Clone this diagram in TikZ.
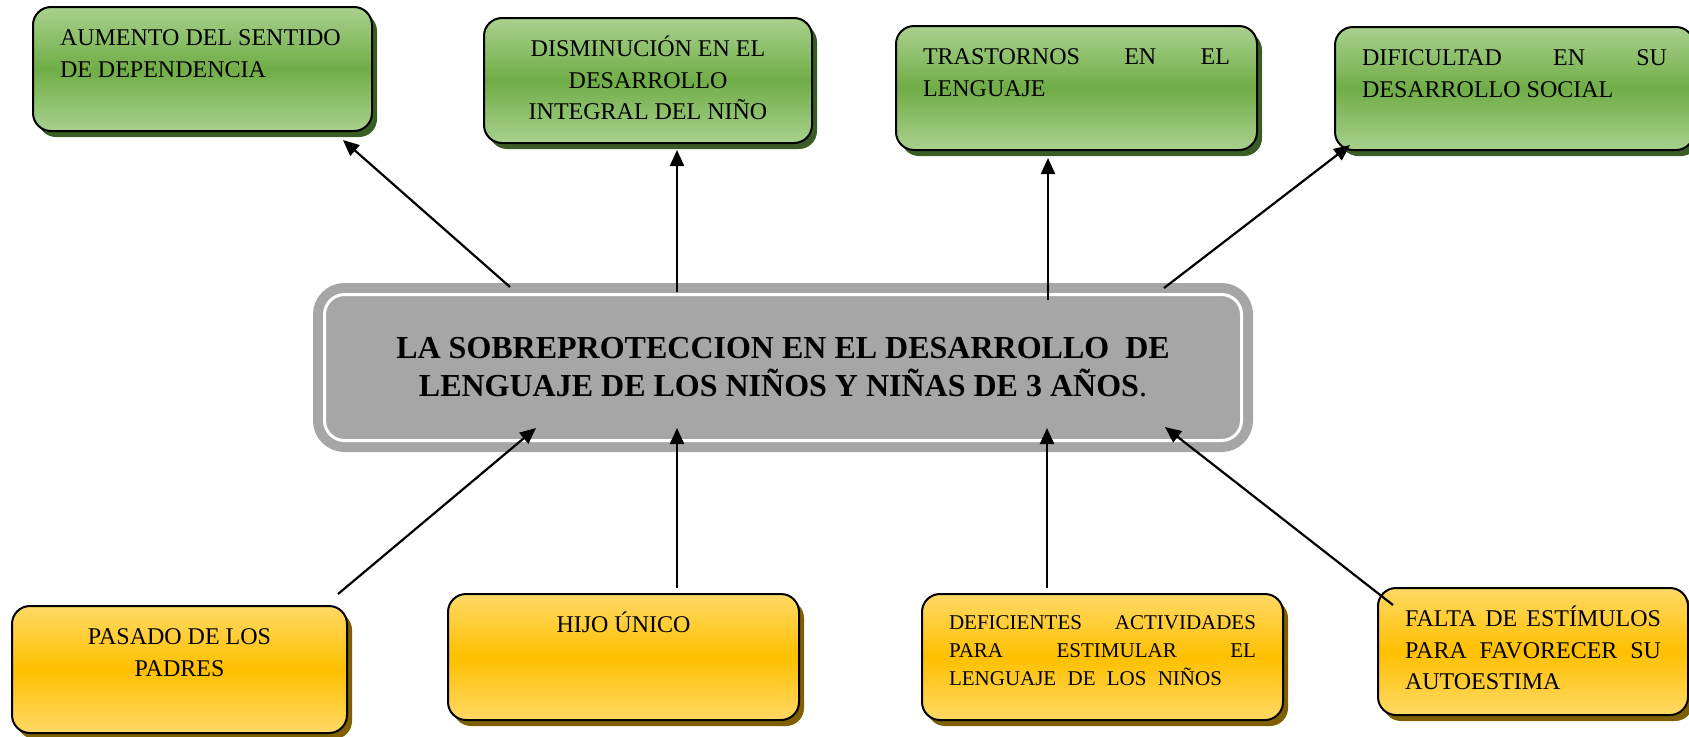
\documentclass[tikz,border=0pt]{standalone}
\usepackage{fontspec}
\setmainfont{Liberation Serif}
\usetikzlibrary{arrows.meta,shadows}
\definecolor{verdeclaro}{HTML}{A9D18E}
\definecolor{verde}{HTML}{70AD47}
\definecolor{verdeosc}{HTML}{3A5D25}
\definecolor{amarillo}{HTML}{FFD966}
\definecolor{naranja}{HTML}{FFC000}
\definecolor{ocre}{HTML}{7F6000}
\definecolor{gris}{HTML}{A6A6A6}
\begin{document}
\begin{tikzpicture}[x=0.5pt,y=-0.5pt,
  caja/.style={draw=black,line width=1pt,rounded corners=9pt,anchor=north west,
    inner xsep=13.5pt,inner ysep=8.3pt,outer sep=0pt,font=\fontsize{12}{15.8}\selectfont},
  efecto/.style={caja,top color=verdeclaro,bottom color=verdeclaro,middle color=verde,
    drop shadow={shadow xshift=2.5pt,shadow yshift=-3pt,fill=verdeosc,opacity=1}},
  causa/.style={caja,top color=amarillo,bottom color=amarillo,middle color=naranja,
    drop shadow={shadow xshift=2.5pt,shadow yshift=-3pt,fill=ocre,opacity=1}},
  titulo/.style={fill=gris,draw=gris,line width=5pt,double=white,double distance=1.5pt,
    rounded corners=10pt,minimum width=458.5pt,minimum height=73pt,outer sep=0pt,
    align=center,font=\fontsize{16}{19}\selectfont\bfseries},
  flecha/.style={line width=1.1pt,-{Triangle[width=7pt,length=8pt]}}]
  \useasboundingbox (0,0) rectangle (1689,736);
  \clip (0,0) rectangle (1689,736);

  \node[titulo] (titulo) at (783,367.5)
    {LA SOBREPROTECCION EN EL DESARROLLO\ \ DE\\LENGUAJE DE LOS NIÑOS Y NIÑAS DE 3 AÑOS{\mdseries .}};

  \node[efecto] (efecto1) at (33,7)
    {\parbox[t][45.4pt][t]{142.5pt}{\strut AUMENTO DEL SENTIDO\\DE DEPENDENCIA}};
  \node[efecto] (efecto2) at (484,18)
    {\parbox[t][45.9pt][t]{137pt}{\centering\strut DISMINUCIÓN EN EL\\DESARROLLO\\INTEGRAL DEL NIÑO}};
  \node[efecto] (efecto3) at (896,26)
    {\parbox[t][45.4pt][t]{153.5pt}{\strut TRASTORNOS \hfill EN \hfill EL\\LENGUAJE}};
  \node[efecto] (efecto4) at (1335,27)
    {\parbox[t][44.9pt][t]{152.5pt}{\strut DIFICULTAD \hfill EN \hfill SU\\DESARROLLO SOCIAL}};

  \node[causa] (causa1) at (12,606)
    {\parbox[t][46.9pt][t]{140.5pt}{\centering\strut PASADO DE LOS\\PADRES}};
  \node[causa] (causa2) at (448,594)
    {\parbox[t][46.4pt][t]{148.5pt}{\centering\strut HIJO ÚNICO}};
  \node[causa] (causa3) at (922,594)
    {\parbox[t][46.4pt][t]{153.5pt}{\fontsize{10.5}{13.8}\selectfont\strut DEFICIENTES \hfill ACTIVIDADES\\PARA \hfill ESTIMULAR \hfill EL\\\makebox[136.5pt][s]{LENGUAJE DE LOS NIÑOS}}};
  \node[causa] (causa4) at (1378,588)
    {\parbox[t][46.9pt][t]{128pt}{\strut FALTA \hfill DE \hfill ESTÍMULOS\\PARA \hfill FAVORECER \hfill SU\\AUTOESTIMA}};

  \draw[flecha] ([shift={(185.5,-7.5)}]titulo.north west) -- ([shift={(-29,9)}]efecto1.south east);
  \draw[flecha] ([shift={(352.5,-2.5)}]titulo.north west) -- ([shift={(193,7)}]efecto2.south west);
  \draw[flecha] ([shift={(723.5,5.5)}]titulo.north west) -- ([shift={(152,8)}]efecto3.south west);
  \draw[flecha] ([shift={(-77.5,-6.5)}]titulo.north east) -- ([shift={(15,-5)}]efecto4.south west);

  \draw[flecha] ([shift={(-9,-12)}]causa1.north east) -- ([shift={(211.5,-12.5)}]titulo.south west);
  \draw[flecha] ([shift={(229,-6)}]causa2.north west) -- ([shift={(352.5,-12.5)}]titulo.south west);
  \draw[flecha] ([shift={(125,-6)}]causa3.north west) -- ([shift={(722.5,-12.5)}]titulo.south west);
  \draw[flecha] ([shift={(15,17)}]causa4.north west) -- ([shift={(-76.5,-13.5)}]titulo.south east);
\end{tikzpicture}
\end{document}
